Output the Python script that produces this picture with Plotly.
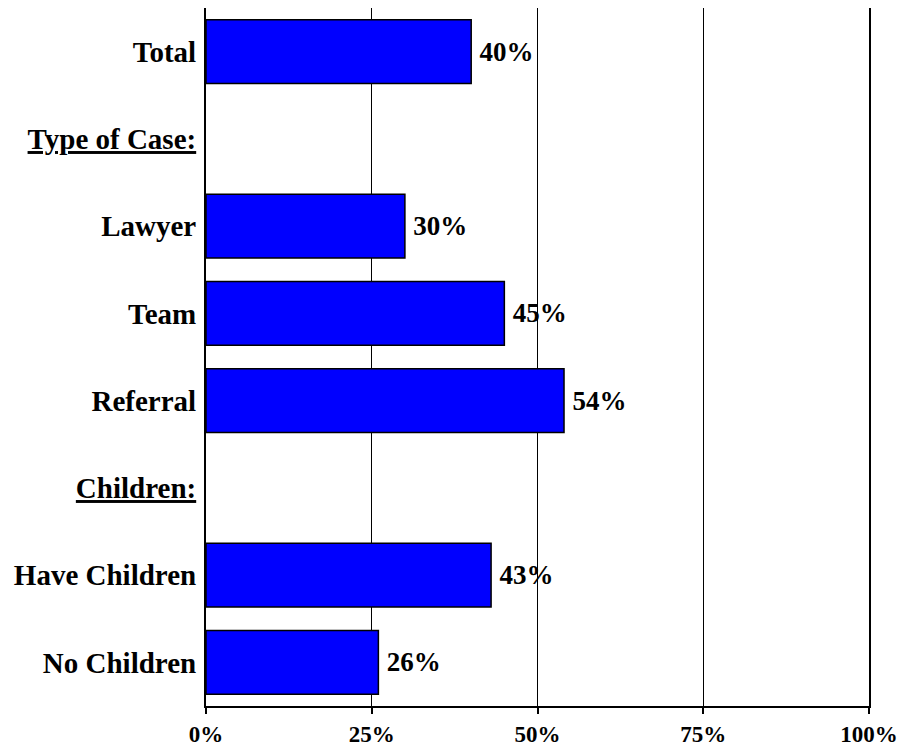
"""Bar chart: share by case type and children."""

import plotly.graph_objects as go

_FONT = "Liberation Serif, Times New Roman, serif"

categories = ["Total", "Type of Case:", "Lawyer", "Team", "Referral",
              "Children:", "Have Children", "No Children"]
labels = ["Total", "<u>Type of Case:</u>", "Lawyer", "Team", "Referral",
          "<u>Children:</u>", "Have Children", "No Children"]
values = [0.40, None, 0.30, 0.45, 0.54, None, 0.43, 0.26]

x_ticks = [0, 0.25, 0.5, 0.75, 1.0]
x_ticktext = ["0%", "25%", "50%", "75%", "100%"]

# the page body adds an 8px margin, so the figure is a bit smaller than the window
fig = go.Figure(go.Bar(
    x=values,
    y=categories,
    orientation="h",
    width=0.73,
    marker=dict(color="#0000FF", line=dict(color="#000000", width=1.5)),
    text=[f"\u2009{v:.0%}" if v is not None else "" for v in values],
    textposition="outside",
    textfont=dict(family=_FONT, size=27, color="#000000", weight="bold"),
    cliponaxis=False,
))

fig.update_xaxes(
    range=[0, 1],
    tickvals=x_ticks,
    ticktext=x_ticktext,
    tickfont=dict(family=_FONT, size=23, color="#000000", weight="bold"),
    ticks="outside", ticklen=6, tickwidth=1.5, tickcolor="#000000",
    ticklabelstandoff=0,
    showgrid=True, gridcolor="#000000", gridwidth=1.2,
    showline=True, linecolor="#000000", linewidth=2, mirror=True,
    zeroline=False,
)
fig.update_yaxes(
    categoryorder="array",
    categoryarray=categories,
    tickvals=categories,
    ticktext=labels,
    autorange="reversed",
    tickfont=dict(family=_FONT, size=29, color="#000000", weight="bold"),
    ticks="", ticklabelstandoff=2,
    showgrid=False,
    showline=True, linecolor="#000000", linewidth=2, mirror=True,
)

fig.update_layout(
    width=909,
    height=739,
    margin=dict(l=198, r=48, t=0, b=41, autoexpand=False),
    plot_bgcolor="#FFFFFF",
    paper_bgcolor="#FFFFFF",
    bargap=0.27,
    showlegend=False,
    font=dict(family=_FONT, color="#000000"),
)

fig.write_html("out.html")
